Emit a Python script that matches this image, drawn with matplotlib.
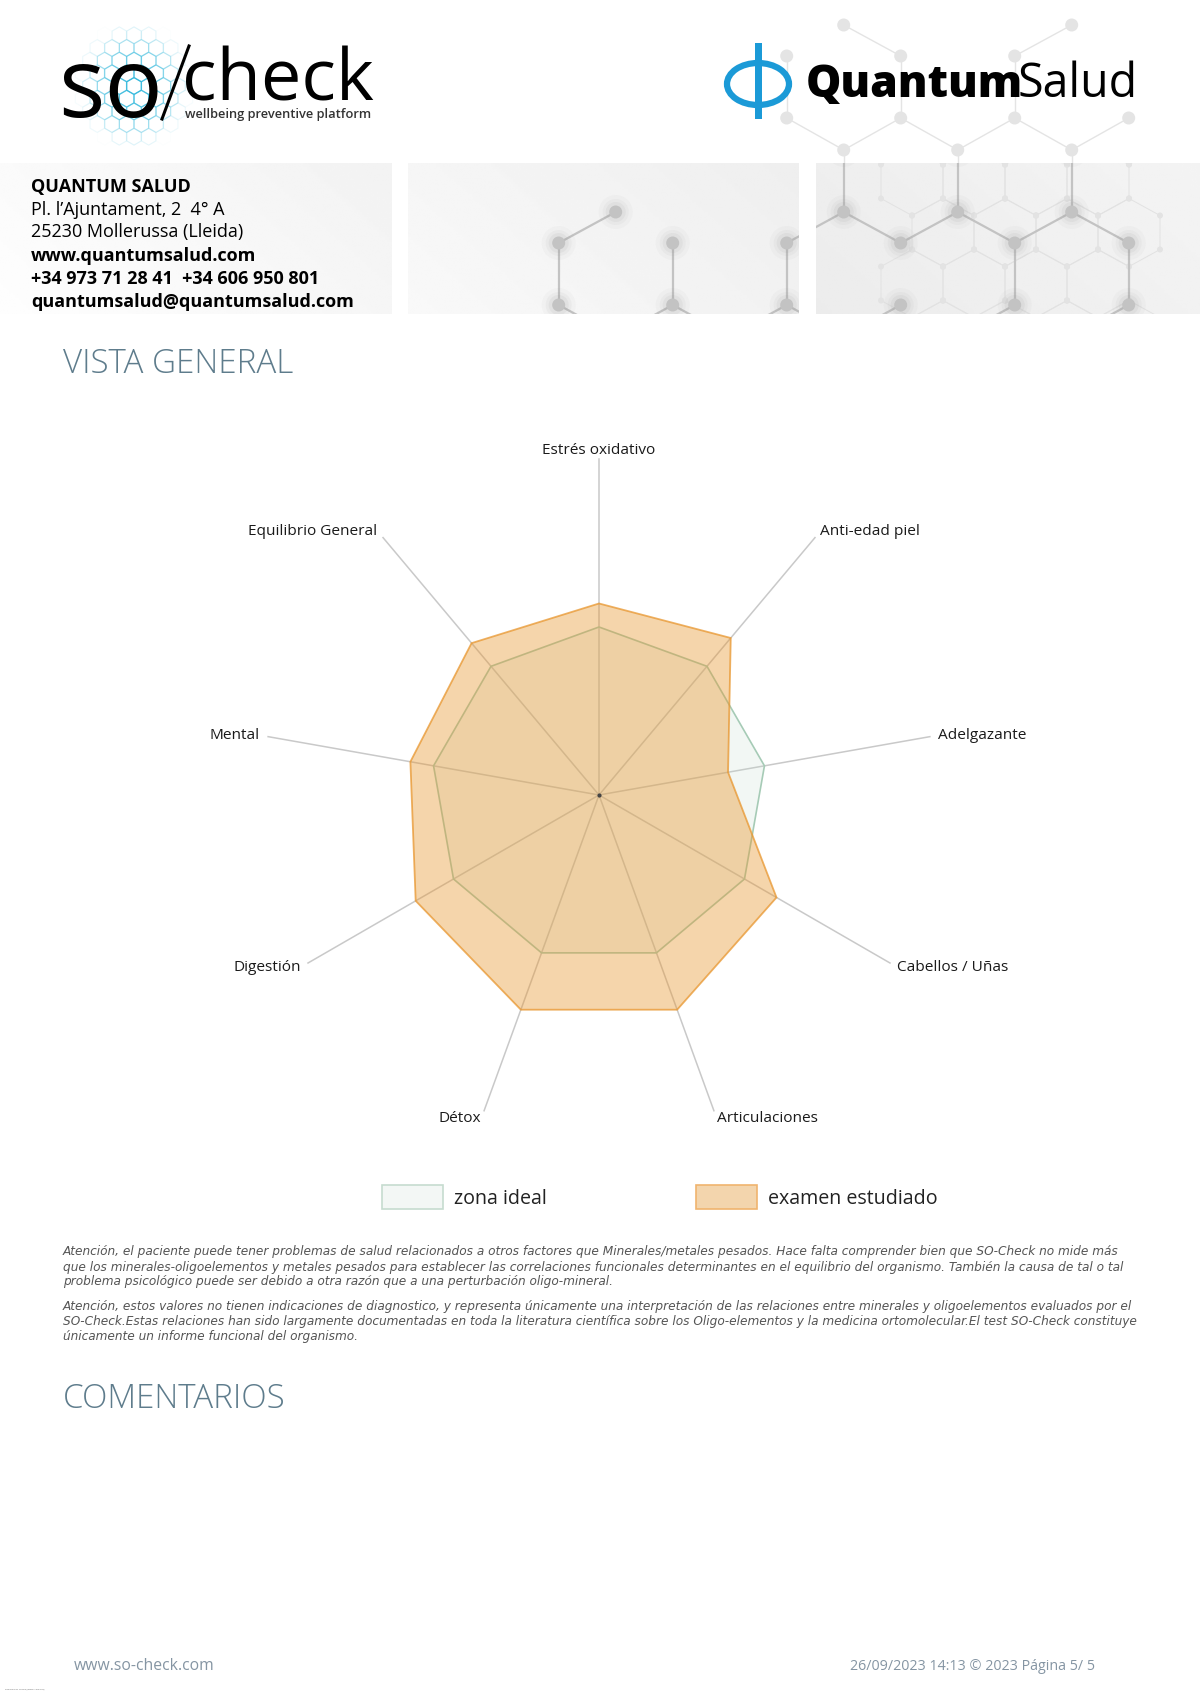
import numpy as np
import matplotlib.pyplot as plt
from matplotlib.patches import Rectangle, Ellipse, Circle, RegularPolygon

plt.rcParams['font.family'] = ['Open Sans', 'DejaVu Sans']

# datos del radar
categorias = ["Estrés oxidativo", "Anti-edad piel", "Adelgazante", "Cabellos / Uñas",
              "Articulaciones", "Détox", "Digestión", "Mental", "Equilibrio General"]
zona_ideal = [50, 50, 50, 50, 50, 50, 50, 50, 50]
examen = [57, 61, 39, 61, 68, 68, 63, 57, 59]
valor_max = 100
leyenda = ["zona ideal", "examen estudiado"]

cabecera = ["QUANTUM SALUD", "Pl. l’Ajuntament, 2  4° A", "25230 Mollerussa (Lleida)",
            "www.quantumsalud.com", "+34 973 71 28 41  +34 606 950 801",
            "quantumsalud@quantumsalud.com"]
cabecera_negrita = [True, False, False, True, True, True]

aviso = [
    "Atención, el paciente puede tener problemas de salud relacionados a otros factores que Minerales/metales pesados. Hace falta comprender bien que SO-Check no mide más",
    "que los minerales-oligoelementos y metales pesados para establecer las correlaciones funcionales determinantes en el equilibrio del organismo. También la causa de tal o tal",
    "problema psicológico puede ser debido a otra razón que a una perturbación oligo-mineral.",
    "Atención, estos valores no tienen indicaciones de diagnostico, y representa únicamente una interpretación de las relaciones entre minerales y oligoelementos evaluados por el",
    "SO-Check.Estas relaciones han sido largamente documentadas en toda la literatura científica sobre los Oligo-elementos y la medicina ortomolecular.El test SO-Check constituye",
    "únicamente un informe funcional del organismo.",
]
aviso_y = [1252, 1267, 1282, 1306.5, 1321.5, 1336.5]

W, H = 1200, 1697
fig = plt.figure(figsize=(W / 100, H / 100), dpi=100)
pg = fig.add_axes([0, 0, 1, 1])
pg.axis('off')

# --- fondos grises de la cabecera ---
paneles = [(0, 392, 0.995, 0.95), (408, 799, 0.975, 0.935), (816, 1200, 0.925, 0.955)]
rects = []
for x0, x1, c0, c1 in paneles:
    X, Y = np.meshgrid(np.linspace(0, 1, 200), np.linspace(0, 1, 60))
    g = c0 + (c1 - c0) * (0.7 * X + 0.3 * (1 - Y))
    pg.imshow(g, cmap='gray', vmin=0, vmax=1, extent=(x0, x1, 314, 163),
              aspect='auto', zorder=1, interpolation='bilinear')
    r = Rectangle((x0, 163), x1 - x0, 151, facecolor='none', edgecolor='none')
    pg.add_patch(r)
    rects.append(r)
arriba = Rectangle((0, 0), W, 163, facecolor='none', edgecolor='none')
pg.add_patch(arriba)

# red hexagonal decorativa
hx0, hdx = 558.7, 57
niveles = [25, 56, 118, 150, 212, 243, 305, 336]
nodos = [(5, 0), (9, 0), (4, 1), (6, 1), (8, 1), (4, 2), (6, 2), (8, 2), (10, 2),
         (5, 3), (7, 3), (9, 3), (1, 4), (5, 4), (7, 4), (9, 4),
         (0, 5), (2, 5), (4, 5), (6, 5), (8, 5), (10, 5),
         (0, 6), (2, 6), (4, 6), (6, 6), (8, 6), (10, 6)]
aristas = [((5, 0), (6, 1)), ((9, 0), (8, 1)), ((4, 1), (4, 2)), ((6, 1), (6, 2)), ((8, 1), (8, 2)),
           ((4, 2), (5, 3)), ((6, 2), (5, 3)), ((6, 2), (7, 3)), ((8, 2), (7, 3)), ((8, 2), (9, 3)),
           ((10, 2), (9, 3)), ((5, 3), (5, 4)), ((7, 3), (7, 4)), ((9, 3), (9, 4)),
           ((5, 4), (4, 5)), ((5, 4), (6, 5)), ((7, 4), (6, 5)), ((7, 4), (8, 5)), ((9, 4), (8, 5)),
           ((9, 4), (10, 5)), ((1, 4), (0, 5)),
           ((0, 5), (0, 6)), ((2, 5), (2, 6)), ((4, 5), (4, 6)), ((8, 5), (8, 6)), ((10, 5), (10, 6)),
           ((0, 6), (1, 7)), ((2, 6), (1, 7)), ((2, 6), (3, 7)), ((4, 6), (3, 7)), ((4, 6), (5, 7)),
           ((6, 6), (5, 7)), ((8, 6), (7, 7)), ((10, 6), (9, 7))]


def punto(n):
    return hx0 + hdx * n[0], niveles[n[1]]


def red(col, lw, rcore, halo, z, clip):
    arts = []
    for a, b in aristas:
        (xa, ya), (xb, yb) = punto(a), punto(b)
        arts += pg.plot([xa, xb], [ya, yb], color=col, lw=lw, zorder=z, solid_capstyle='round')
    for n in nodos:
        x, y = punto(n)
        if halo:
            for rr, al in [(17, 0.05), (13, 0.07), (10, 0.1)]:
                c = Circle((x, y), rr, facecolor='#9a9a9a', edgecolor='none', alpha=al, zorder=z)
                pg.add_patch(c)
                arts.append(c)
        c = Circle((x, y), rcore, facecolor=col, edgecolor='none', zorder=z + 0.1)
        pg.add_patch(c)
        arts.append(c)
    for a in arts:
        a.set_clip_path(clip)


red('#e4e4e4', 1.0, 6.5, False, 0.5, arriba)

# red fina de fondo
s, w = 34, 62
for fila in range(-1, 4):
    for col in range(-1, 3):
        cxh = 974 + col * w + (w / 2 if fila % 2 else 0)
        cyh = 181.5 + fila * 1.5 * s
        vx = [cxh, cxh + w / 2, cxh + w / 2, cxh, cxh - w / 2, cxh - w / 2, cxh]
        vy = [cyh - s, cyh - s / 2, cyh + s / 2, cyh + s, cyh + s / 2, cyh - s / 2, cyh - s]
        ln, = pg.plot(vx, vy, color='#e2e2e2', lw=0.7, zorder=1.5)
        ln.set_clip_path(rects[2])
        for px, py in zip(vx[:-1], vy[:-1]):
            c = Circle((px, py), 3, facecolor='#e3e3e3', edgecolor='none', zorder=1.5)
            pg.add_patch(c)
            c.set_clip_path(rects[2])

red('#c3c3c3', 1.6, 6.5, True, 2, rects[1])
red('#c3c3c3', 1.6, 6.5, True, 2, rects[2])

# --- logo so/check ---
for i in range(-7, 8):
    for j in range(-8, 8):
        hxp = 134 + i * 14.7 + (7.35 if j % 2 else 0)
        hyp = 86 + j * 12.7
        d = np.hypot(hxp - 134, (hyp - 86) * 0.9)
        al = max(0.0, 1 - d / 55) * 0.95
        if al > 0:
            pg.add_patch(RegularPolygon((hxp, hyp), 6, radius=8.3, orientation=0,
                                        facecolor='none', edgecolor='#30b8dc', lw=0.8,
                                        alpha=al, zorder=3))
pg.text(58, 117, "so", fontsize=70, fontweight='medium', color='black',
        ha='left', va='baseline', zorder=4)
pg.plot([162, 189], [119, 46], color='black', lw=2.2, zorder=4)
pg.text(182, 100.6, "check", fontsize=52, fontweight='medium', color='black',
        ha='left', va='baseline', zorder=4)
pg.text(185, 118, "wellbeing preventive platform", fontsize=9.3, color='#333333',
        fontweight='semibold', ha='left', va='baseline', zorder=4)

# --- logo QuantumSalud ---
pg.add_patch(Ellipse((758, 84), 62, 42, facecolor='none', edgecolor='#1b9ad7', lw=4.5, zorder=4))
pg.add_patch(Rectangle((754.5, 43), 7, 76, facecolor='#1b9ad7', edgecolor='none', zorder=4))
pg.text(806, 97, "Quantum", fontsize=32, fontweight='heavy', color='black',
        ha='left', va='baseline', zorder=4)
pg.text(1018, 97, "Salud", fontsize=33.5, color='black', ha='left', va='baseline', zorder=4)

# --- datos de contacto ---
for y, t, b in zip([187, 209.7, 232.5, 256, 279, 302], cabecera, cabecera_negrita):
    pg.text(31, y, t, fontsize=13.0, fontweight='bold' if b else 'normal',
            color='black', ha='left', va='center', zorder=4)

# --- títulos ---
for y, t in [(364, "VISTA GENERAL"), (1399, "COMENTARIOS")]:
    pg.text(63, y, t, fontsize=23.9, fontweight='light', color='#5e7c8c', ha='left', va='center')

# --- leyenda ---
for x0, lab, fc, ec in [(382, leyenda[0], '#f3f7f5', '#c6dccf'),
                        (696, leyenda[1], '#f3d5ad', '#f0b46e')]:
    pg.add_patch(Rectangle((x0, 1185), 61, 24, facecolor=fc, edgecolor=ec, lw=1.2))
    pg.text(x0 + 72, 1199, lab, fontsize=14.1, color='#222222', ha='left', va='center')

# --- avisos ---
for y, t in zip(aviso_y, aviso):
    pg.text(63, y, t, fontsize=8.7, style='italic', color='#555555', ha='left', va='center',
            family=['DejaVu Sans'])

# --- pie ---
pg.text(74, 1666, "www.so-check.com", fontsize=11.3, color='#8595a3', ha='left', va='center')
pg.text(1095, 1666, "26/09/2023 14:13 © 2023 Página 5/ 5", fontsize=10.3, color='#8595a3',
        ha='right', va='center')
pg.text(5, 1689, "Powered by TCPDF (www.tcpdf.org)", fontsize=1.7, color='#666666',
        ha='left', va='center')

pg.set_xlim(0, W)
pg.set_ylim(H, 0)

# --- radar ---
cx, cy, esc, half = 599, 795, 3.36, 400
rad = fig.add_axes([(cx - half) / W, 1 - (cy + half) / H, 2 * half / W, 2 * half / H])
lim = half / esc
rad.set_xlim(-lim, lim)
rad.set_ylim(-lim, lim)
rad.axis('off')

ang = np.radians(np.arange(len(categorias)) * 360 / len(categorias))
for a in ang:
    rad.plot([0, valor_max * np.sin(a)], [0, valor_max * np.cos(a)], color='#c9c9c9', lw=1.1, zorder=1)

ideal = np.array(zona_ideal)
ex = np.array(examen)
rad.fill(ideal * np.sin(ang), ideal * np.cos(ang), facecolor=(0.75, 0.86, 0.80, 0.2),
         edgecolor='#a6cbb6', lw=1.2, zorder=2)
rad.fill(ex * np.sin(ang), ex * np.cos(ang), facecolor=(0.91, 0.59, 0.18, 0.4),
         edgecolor=(0.91, 0.59, 0.18, 0.75), lw=1.3, zorder=3)
rad.plot([0], [0], 'o', color='#444444', ms=2, zorder=4)

for a, lab in zip(ang, categorias):
    sn = np.sin(a)
    ha = 'center' if abs(sn) < 0.1 else ('left' if sn > 0 else 'right')
    rad.text(102.5 * sn, 102.5 * np.cos(a), lab, ha=ha, va='center', fontsize=11.1,
             color='#1a1a1a', fontweight='medium')

fig.savefig('out.png', dpi=100)
